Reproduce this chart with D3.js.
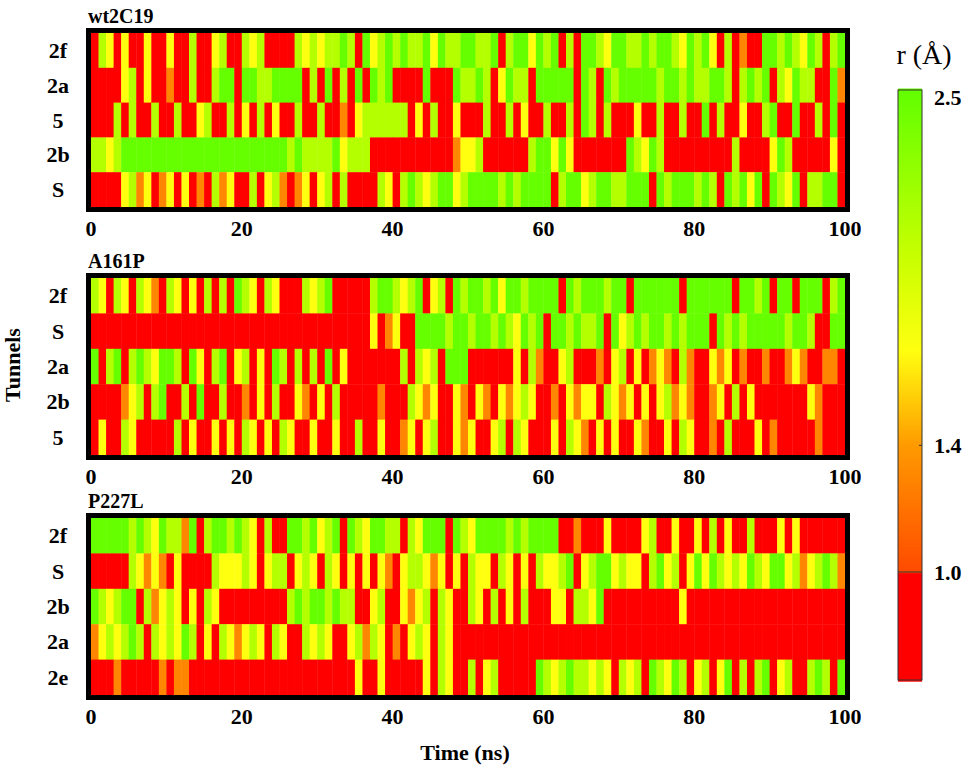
<!DOCTYPE html>
<html>
<head>
<meta charset="utf-8">
<script src="https://cdn.jsdelivr.net/npm/d3@7"></script>
<style>
  body { margin: 0; background: #fff; }
  text { font-family: "Liberation Serif", "Times New Roman", serif; }
</style>
</head>
<body>
<svg id="chart" width="975" height="775"></svg>
<script>
// Radius code per 1 ns frame: R<1.0, O~1.3, Y~1.7, L~2.1, G~2.5
const codeValues = { R: 0.8, O: 1.3, Y: 1.7, L: 2.1, G: 2.5 };

const panelTitles = ["wt2C19", "A161P", "P227L"];

const rowsWt = ["2f", "2a", "5", "2b", "S"];
const seqWt = [
  "RLYRYRRYRR YRRLRRYLRR LYLRRRRLYL YLLGLRGYLG LGLLGYGLLG GLLGRLGGYG LGRLRGGLYG GLLGLGGLYG LGYRLRORRG GLGLYGLRLG",
  "RRRRYLRYRR ORRLRRLGGR GGLLGGGGRL RGRLRGRGLG RRRRGRRRGL LGLRYGLLRG GGGGRGLRGL GGGGGLGGLG LLGGLRLGLG RLYGLLRRGO",
  "RRRLRLRRLR RLRRYLRRLR YRLRYRRLRR LRRORYLLLL LLRYRLRRYR RRLRRLRYRR LRRLRGLRLR RRYRRLRRLR RGRLRRYRRL GRRGRRLRGR",
  "LLYLGGGGGG GGGGGGGGGG GGGGGGLGLL LLGYLLLRRR RRRRRRRROY YLRRRRRRLG GYGYRRRRRR RGLYGLRRRR RRRRRLRRRR YGLRRRRRYR",
  "RRRRYLOYRO YRYRORLOYR RLRYLOROYR YLRLRRRRLY RLGLYLGGYL GGGGLGLGGG GRLGGYLGGL LGGGRGLGGG LGLRGLGYGR GLYGRLLGGR"
];

const rowsA = ["2f", "S", "2a", "2b", "5"];
const seqA = [
  "LYRLYRLYOR LYRYRLRLRG LYRLYRRRLY LGRRRRRLGG LYLGRYLRGL GGLGYGGLGG GGRGLGGGLG GRGGGGGGRG GGGGGRGGLG RGGRGGGRLG",
  "RRRRRRRRRR RRRRRRRRRR RRRRRRRRRR RRRRRRRYRO YRRGGGGLGG LGGLGLYGLG RGGLGLLGRG YLGLGGLGLG GGRGLGLGGG GGLGGLRRGG",
  "GRLGRLGLYG GLRGYRLGRY LRYRGLRLRL RGRYRRRRRR RLRLYLRGGG RRRRRRYRLO RRYLRRRORY LRYROYORLO RRYOYRORRO RROYORROOR",
  "RRRROYLRLG RRLRGRRLRR ORYRLRRYOR YRLRRRRROR RRLYOYRRYO RYORYOYLYR RORYOYYRLY OYRYRYLOYO RROYRLRYRR RRRRRYORRR",
  "RYRRLYRRRR RLRYRRYRYR LYRYRLYRRY RRYRRLRRYR ROYRYLRRYO YRRYLRLYRR RYRLYORYRY RRYORRYRLY RRORLRRRYR ORRRRRORRR"
];

const rowsP = ["2f", "S", "2b", "2a", "2e"];
const seqP = [
  "GGGGGLGLYG LLOGRLGGLG LYRLRRGGLG YLGRGLYGGL LRLYGGGRGL YGGGGLGLGG GGRRORRRYR RRRYLRRYRR YRLRYRRLRR RYRYRRRRRR",
  "RRRRRLYOYO RYRRRRLYYY LYRYLLRYLY RLYRYRYRYO RYLLYOYRYR LYYRLYRYRL YYLGRYLGGY LYYRLGYLRY GYGLYLYGLY GGYLOYLGLO",
  "GLYLGGRLOY LYRYRLYRRR RRRRRRLGLG GLGLLRRYLR RYOYLRLYRR LYRLRYRLRR RYYRLLYGRR RRRRRRRRYR RRRRRRRRRR RRRRRRRRRR",
  "OYLYLGLRLY LYGLRYRLYO YLYRLYRRLY LYRRYLOLYR ORYLYRLYRR RRRRRRRRRR RRRRRRRRRR RRRRRRRRRR RRRRRRRRRR RRRRRRRRRR",
  "RRRORRRRRO ROORRRRRRR RRRRRRRRRR RRRRRYRRYR RRRRYRLYRR LRYLRRRRRG LYLGLLYLYR LYLRGLYGLR YLRYGRLRLG RYLRRLGLRG"
];

const panels = [
  { title: panelTitles[0], rows: rowsWt, seq: seqWt, top: 33, bottom: 207 },
  { title: panelTitles[1], rows: rowsA, seq: seqA, top: 278, bottom: 455 },
  { title: panelTitles[2], rows: rowsP, seq: seqP, top: 518, bottom: 695 }
];

const xTicks = [0, 20, 40, 60, 80, 100];
const barTicks = [2.5, 1.4, 1.0];

const svg = d3.select("#chart");
const x = d3.scaleLinear().domain([0, 100]).range([91, 845]);

const color = d3.scaleLinear()
  .domain([1.0, 1.4, 1.7, 2.0, 2.5])
  .range(["#ff4a00", "#ff9a00", "#ffff10", "#c8ff00", "#66ff00"])
  .clamp(true);
const fill = v => v < 1.0 ? "#ff0000" : color(v);

panels.forEach(p => {
  const y = d3.scaleBand().domain(p.rows).range([p.top, p.bottom]);
  const g = svg.append("g");

  p.rows.forEach((row, i) => {
    const cells = p.seq[i].replace(/ /g, "").split("").map((c, t) => ({ t, v: codeValues[c] }));
    g.selectAll(null)
      .data(cells)
      .join("rect")
      .attr("x", d => x(d.t))
      .attr("width", d => x(d.t + 1) - x(d.t) + 0.4)
      .attr("y", y(row))
      .attr("height", y.bandwidth() + 0.4)
      .attr("fill", d => fill(d.v));
  });

  g.append("rect")
    .attr("x", x(0) - 2.5).attr("y", p.top - 2.5)
    .attr("width", x(100) - x(0) + 5).attr("height", p.bottom - p.top + 5)
    .attr("fill", "none").attr("stroke", "#000").attr("stroke-width", 5);

  g.selectAll(null).data(p.rows).join("text")
    .attr("x", 58).attr("y", d => y(d) + y.bandwidth() / 2)
    .attr("text-anchor", "middle").attr("dominant-baseline", "central")
    .attr("font-size", 22).attr("font-weight", "bold")
    .text(d => d);

  g.append("text")
    .attr("x", 88).attr("y", p.top - 10)
    .attr("font-size", 20).attr("font-weight", "bold")
    .text(p.title);

  g.selectAll(null).data(xTicks).join("text")
    .attr("x", d => x(d)).attr("y", p.bottom + 29)
    .attr("text-anchor", "middle")
    .attr("font-size", 22).attr("font-weight", "bold")
    .text(d => d);
});

svg.append("text")
  .attr("transform", "translate(20,365) rotate(-90)")
  .attr("text-anchor", "middle")
  .attr("font-size", 22).attr("font-weight", "bold")
  .text("Tunnels");

svg.append("text")
  .attr("x", 465).attr("y", 760)
  .attr("text-anchor", "middle")
  .attr("font-size", 22).attr("font-weight", "bold")
  .text("Time (ns)");

// colour bar
const cb = { x: 898, w: 24, top: 90, bottom: 680 };
const yb = d3.scaleLinear().domain([1.0, 2.5]).range([572, 97]);
const vMin = yb.invert(cb.bottom);
const vMax = yb.invert(cb.top);
const steps = d3.range(0, 300).map(i => vMin + (vMax - vMin) * i / 299);
svg.append("g").selectAll("rect").data(steps).join("rect")
  .attr("x", cb.x).attr("width", cb.w)
  .attr("y", d => yb(d) - 1.5).attr("height", 3.2)
  .attr("fill", d => fill(d));
svg.append("rect")
  .attr("x", cb.x).attr("y", cb.top).attr("width", cb.w).attr("height", cb.bottom - cb.top)
  .attr("fill", "none").attr("stroke", "#333").attr("stroke-width", 1);
svg.append("line")
  .attr("x1", cb.x).attr("x2", cb.x + cb.w).attr("y1", yb(1.0)).attr("y2", yb(1.0))
  .attr("stroke", "#333");
svg.append("line")
  .attr("x1", cb.x + cb.w - 3).attr("x2", cb.x + cb.w).attr("y1", yb(1.4)).attr("y2", yb(1.4))
  .attr("stroke", "#333");
svg.selectAll(".btick").data(barTicks).join("text")
  .attr("x", cb.x + cb.w + 12).attr("y", d => yb(d))
  .attr("dominant-baseline", "central")
  .attr("font-size", 22).attr("font-weight", "bold")
  .text(d => d.toFixed(1));
svg.append("text")
  .attr("x", 924).attr("y", 64)
  .attr("text-anchor", "middle")
  .attr("font-size", 28)
  .text("r (Å)");
</script>
</body>
</html>
